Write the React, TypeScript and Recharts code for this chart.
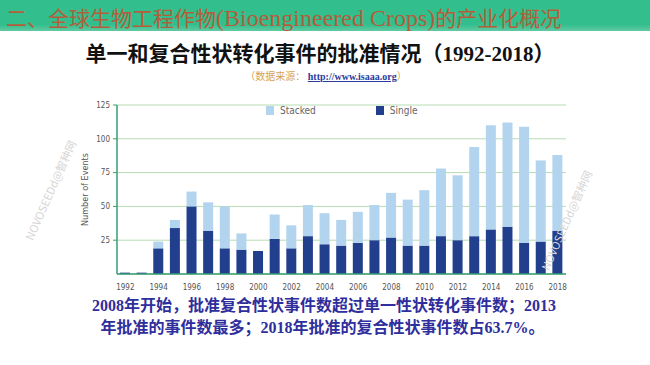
import { Bar, BarChart, CartesianGrid, Legend, XAxis, YAxis } from "recharts";

const years = [
  "1992", "1993", "1994", "1995", "1996", "1997", "1998", "1999", "2000",
  "2001", "2002", "2003", "2004", "2005", "2006", "2007", "2008", "2009",
  "2010", "2011", "2012", "2013", "2014", "2015", "2016", "2017", "2018",
];
const single = [1, 1, 19, 34, 50, 32, 19, 18, 17, 26, 19, 28, 22, 21, 23, 25, 27, 21, 21, 28, 25, 28, 33, 35, 23, 24, 32];
const stacked = [0, 0, 5, 6, 11, 21, 31, 12, 0, 18, 17, 23, 23, 19, 23, 26, 33, 34, 41, 50, 48, 66, 77, 77, 86, 60, 56];
const yTicks = [25, 50, 75, 100, 125];

const legendItems = [
  { name: "Stacked", color: "#b3d4ef" },
  { name: "Single", color: "#223f8e" },
];

const data = years.map((year, i) => ({
  year,
  single: single[i],
  stacked: stacked[i],
}));

const axisFont = "'Liberation Sans Narrow', 'DejaVu Sans Condensed', sans-serif";
const cjkSerif = "'Liberation Serif', 'Noto Sans CJK SC', serif";

function ChartLegend() {
  return (
    <div style={{ display: "flex", gap: 60, fontFamily: axisFont, fontSize: 10, color: "#666" }}>
      {legendItems.map((item) => (
        <div key={item.name} style={{ display: "flex", alignItems: "center", gap: 6 }}>
          <span style={{ width: 8, height: 9, background: item.color, display: "inline-block" }} />
          <span>{item.name}</span>
        </div>
      ))}
    </div>
  );
}

function Watermark({ x, y }: { x: number; y: number }) {
  return (
    <div
      style={{
        position: "absolute",
        left: x,
        top: y,
        transform: "translate(-50%, -50%) rotate(-66deg)",
        fontFamily: "'Noto Sans CJK SC', sans-serif",
        fontSize: 11,
        color: "#d6d6d6",
        whiteSpace: "nowrap",
      }}
    >
      NOVOSEEDd@智种网
    </div>
  );
}

export default function App() {
  return (
    <div style={{ position: "relative", width: 650, height: 365, background: "#fff", overflow: "hidden" }}>
      <style>{"body{margin:0}"}</style>
      <div
        style={{
          position: "absolute",
          left: 0,
          top: 0,
          width: 650,
          height: 31,
          background: "linear-gradient(#33bf8d, #33bf8d 80%, #62c9a3)",
        }}
      />
      <div
        style={{
          position: "absolute",
          left: 6,
          top: 2,
          fontFamily: cjkSerif,
          fontSize: 21,
          color: "#b35e3a",
          whiteSpace: "nowrap",
        }}
      >
        二、全球生物工程作物<span style={{ fontSize: 24 }}>(Bioengineered Crops)</span>的产业化概况
      </div>
      <div
        style={{
          position: "absolute",
          left: 0,
          width: 640,
          top: 37,
          textAlign: "center",
          fontFamily: cjkSerif,
          fontWeight: 700,
          fontSize: 21,
          color: "#111",
          whiteSpace: "nowrap",
        }}
      >
        单一和复合性状转化事件的批准情况（1992-2018）
      </div>
      <div
        style={{
          position: "absolute",
          left: 0,
          width: 652,
          top: 68,
          textAlign: "center",
          fontFamily: cjkSerif,
          fontSize: 10,
          color: "#d8a34c",
          whiteSpace: "nowrap",
        }}
      >
        （数据来源：{" "}
        <span style={{ color: "#2b3b9c", fontWeight: 700, textDecoration: "underline" }}>http://www.isaaa.org</span>）
      </div>

      <div style={{ position: "absolute", left: 0, top: 0 }}>
        <BarChart
          width={650}
          height={300}
          data={data}
          margin={{ top: 94, right: 84, left: 80, bottom: 6 }}
          barSize={10}
        >
          <CartesianGrid vertical={false} stroke="#b6dcb2" strokeWidth={1} />
          <XAxis
            dataKey="year"
            interval={1}
            height={20}
            axisLine={{ stroke: "#3a9d74", strokeWidth: 1.5 }}
            tickLine={false}
            tickSize={4}
            tickMargin={6}
            tick={{ fontSize: 8, fill: "#555", fontFamily: axisFont }}
          />
          <YAxis
            width={37}
            domain={[0, 125]}
            ticks={yTicks}
            axisLine={{ stroke: "#3a9d74", strokeWidth: 1.5 }}
            tickLine={{ stroke: "#3a9d74" }}
            tickSize={4}
            tickMargin={3}
            tick={{ fontSize: 8, fill: "#555", fontFamily: axisFont }}
            label={{
              value: "Number of Events",
              angle: -90,
              position: "insideLeft",
              offset: 5,
              style: { textAnchor: "middle", fontSize: 9, fill: "#555", fontFamily: axisFont },
            }}
          />
          <Legend
            verticalAlign="top"
            content={() => <ChartLegend />}
            wrapperStyle={{ position: "absolute", top: 105, left: 266, width: "auto" }}
          />
          <Bar dataKey="single" stackId="a" fill="#223f8e" isAnimationActive={false} />
          <Bar dataKey="stacked" stackId="a" fill="#b3d4ef" isAnimationActive={false} />
        </BarChart>
      </div>

      <Watermark x={50} y={190} />
      <Watermark x={566} y={220} />

      <div
        style={{
          position: "absolute",
          left: 0,
          width: 650,
          top: 295,
          textAlign: "center",
          fontFamily: cjkSerif,
          fontWeight: 700,
          fontSize: 16,
          lineHeight: "22px",
          color: "#2e2e9c",
          whiteSpace: "nowrap",
        }}
      >
        <div style={{ marginLeft: -2 }}>2008年开始，批准复合性状事件数超过单一性状转化事件数；2013</div>
        <div style={{ marginLeft: -5 }}>年批准的事件数最多；2018年批准的复合性状事件数占63.7%。</div>
      </div>
    </div>
  );
}
